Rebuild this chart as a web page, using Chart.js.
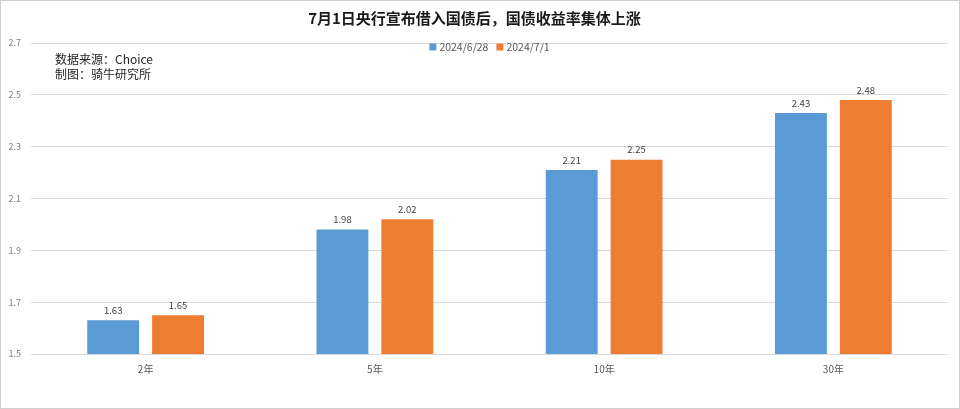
<!DOCTYPE html>
<html>
<head>
<meta charset="utf-8">
<script src="https://cdn.jsdelivr.net/npm/chart.js@4.4.1/dist/chart.umd.min.js"></script>
<style>
  html, body { margin: 0; padding: 0; background: #fff; }
  #wrap { position: relative; width: 958px; height: 407px; border: 1px solid #d0d0d0; }
</style>
</head>
<body>
<div id="wrap"><canvas id="c"></canvas></div>
<script>
const categories = ["2年", "5年", "10年", "30年"];
const seriesNames = ["2024/6/28", "2024/7/1"];
const yield0628 = [1.63, 1.98, 2.21, 2.43];
const yield0701 = [1.65, 2.02, 2.25, 2.48];
const yTicks = [1.5, 1.7, 1.9, 2.1, 2.3, 2.5, 2.7];

const FONT = "'Noto Sans CJK SC', 'Noto Sans', sans-serif";

// value labels over each bar
const barLabels = {
  id: "barLabels",
  afterDatasetsDraw(chart) {
    const ctx = chart.ctx;
    ctx.save();
    ctx.font = "9.5px " + FONT;
    ctx.fillStyle = "#404040";
    ctx.textAlign = "center";
    ctx.textBaseline = "bottom";
    chart.data.datasets.forEach((ds, i) => {
      chart.getDatasetMeta(i).data.forEach((bar, j) => {
        ctx.fillText(ds.data[j].toFixed(2), bar.x, bar.y - 5);
      });
    });
    ctx.restore();
  }
};

// legend sits inside the plot, just under the top gridline
const topLegend = {
  id: "topLegend",
  afterDraw(chart) {
    const ctx = chart.ctx;
    const area = chart.chartArea;
    ctx.save();
    ctx.font = "10.5px " + FONT;
    ctx.textBaseline = "middle";
    const items = chart.data.datasets.map(ds => ({
      text: ds.label, color: ds.backgroundColor, w: ctx.measureText(ds.label).width
    }));
    const box = 7, gapIn = 3, gapOut = 8;
    let total = 0;
    items.forEach((it, i) => { total += box + gapIn + it.w + (i ? gapOut : 0); });
    let x = (area.left + area.right) / 2 - total / 2;
    const y = area.top + 4;
    items.forEach(it => {
      ctx.fillStyle = it.color;
      ctx.fillRect(x, y - box / 2, box, box);
      x += box + gapIn;
      ctx.fillStyle = "#595959";
      ctx.fillText(it.text, x, y);
      x += it.w + gapOut;
    });
    ctx.restore();
  }
};

// source note in top-left of plot
const sourceNote = {
  id: "sourceNote",
  afterDraw(chart) {
    const ctx = chart.ctx;
    ctx.save();
    ctx.font = "12px " + FONT;
    ctx.fillStyle = "#262626";
    ctx.textBaseline = "middle";
    ctx.fillText("数据来源：Choice", 54, 58);
    ctx.fillText("制图：骑牛研究所", 54, 73);
    ctx.restore();
  }
};

new Chart(document.getElementById("c"), {
  type: "bar",
  data: {
    labels: categories,
    datasets: [
      {
        label: seriesNames[0],
        data: yield0628,
        backgroundColor: "#5b9bd5",
        barPercentage: 0.8,
        categoryPercentage: 0.566,
      },
      {
        label: seriesNames[1],
        data: yield0701,
        backgroundColor: "#ed7d31",
        barPercentage: 0.8,
        categoryPercentage: 0.566,
      },
    ],
  },
  options: {
    responsive: true,
    maintainAspectRatio: false,
    animation: false,
    layout: { padding: { left: 0, right: 11, top: 0, bottom: 0 } },
    plugins: {
      title: {
        display: true,
        text: "7月1日央行宣布借入国债后，国债收益率集体上涨",
        font: { family: FONT, size: 15, weight: "bold" },
        color: "#1a1a1a",
        padding: { top: 8, bottom: 16 },
      },
      legend: { display: false },
      tooltip: { enabled: false },
    },
    scales: {
      x: {
        grid: { display: false },
        border: { display: false },
        ticks: { font: { family: FONT, size: 10 }, color: "#595959", padding: 1 },
        afterFit(scale) { scale.height = 54; },
      },
      y: {
        min: 1.5,
        max: 2.7,
        afterBuildTicks(scale) { scale.ticks = yTicks.map(v => ({ value: v })); },
        grid: { color: "#d9d9d9", drawTicks: false },
        border: { display: false },
        ticks: {
          font: { family: FONT, size: 9 },
          color: "#7f7f7f",
          padding: 10,
          callback: v => v.toFixed(1),
        },
        afterFit(scale) { scale.width = 30; },
      },
    },
  },
  plugins: [barLabels, topLegend, sourceNote],
});
</script>
</body>
</html>
